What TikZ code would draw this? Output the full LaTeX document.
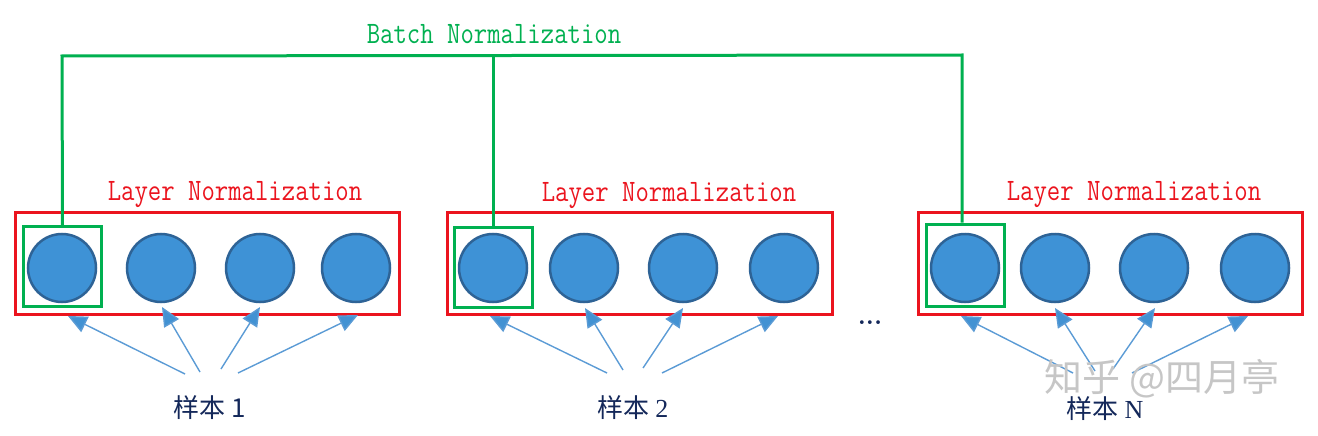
\documentclass[tikz,border=0pt]{standalone}
\usepackage{fontspec}
\usepackage{graphicx}
\newfontfamily\cjk{Noto Sans CJK SC}
\newfontfamily\serifnum{Liberation Serif}
\usetikzlibrary{arrows.meta}
\definecolor{lnred}{RGB}{235,20,30}
\definecolor{bngreen}{RGB}{0,176,80}
\definecolor{cfill}{RGB}{62,146,214}
\definecolor{cdraw}{RGB}{46,99,150}
\definecolor{arr}{RGB}{91,155,213}
\definecolor{arrhead}{RGB}{66,146,211}
\definecolor{navy}{RGB}{20,40,90}
\newcommand{\tallmono}[1]{\scalebox{1}[1.2]{#1}}
\begin{document}
\begin{tikzpicture}[x=1pt,y=-1pt,
  redbox/.style={draw=lnred,line width=3pt,minimum width=384pt,minimum height=102pt,inner sep=0pt},
  greenbox/.style={draw=bngreen,line width=3pt,minimum width=78pt,minimum height=80pt,inner sep=0pt},
  neuron/.style={circle,fill=cfill,draw=cdraw,line width=2.5pt,minimum size=68pt,inner sep=0pt},
  lntext/.style={text=lnred,font=\fontsize{26}{26}\selectfont\ttfamily,inner sep=0pt},
  bntext/.style={text=bngreen,font=\fontsize{26}{26}\selectfont\ttfamily,inner sep=0pt},
  sample/.style={text=navy,font=\fontsize{26}{26}\selectfont\cjk,inner sep=0pt},
  bnline/.style={draw=bngreen,line width=3pt},
  inarrow/.style={draw=arr,line width=1.4pt,-{Triangle[length=19pt,width=17pt,fill=arrhead]}},
]
\useasboundingbox (0,0) rectangle (1318,436);

% ---- block 1 ----
\node[redbox] (r1) at (207,263) {};
\node[greenbox] (g1) at (62.5,266.5) {};
\node[neuron] (n11) at (62,268) {};
\node[neuron] (n12) at (161,268) {};
\node[neuron] (n13) at (260,268) {};
\node[neuron] (n14) at (356,268) {};
\node[lntext] (t1) at (235,195) {\tallmono{Layer Normalization}};
\node[sample] (l1) at (210,408) {样本 1};

% ---- block 2 ----
\node[redbox,minimum width=385pt] (r2) at (639.5,263.5) {};
\node[greenbox] (g2) at (493,267) {};
\node[neuron] (n21) at (493,268) {};
\node[neuron] (n22) at (584,268) {};
\node[neuron] (n23) at (683,268) {};
\node[neuron] (n24) at (784,268) {};
\node[lntext] (t2) at (669,196) {\tallmono{Layer Normalization}};
\node[sample] (l2) at (633,408) {样本 {\serifnum 2}};

% ---- block 3 ----
\node[redbox] (r3) at (1110,263.5) {};
\node[greenbox,minimum height=82pt] (g3) at (965,265) {};
\node[neuron] (n31) at (965,268) {};
\node[neuron] (n32) at (1055,268) {};
\node[neuron] (n33) at (1154,268) {};
\node[neuron] (n34) at (1255,268) {};
\node[lntext] (t3) at (1134,195) {\tallmono{Layer Normalization}};
\node[sample] (l3) at (1105,409) {样本 {\serifnum N}};

\node[inner sep=0pt,text=navy,font=\fontsize{26}{26}\selectfont\bfseries] (dots) at (870,323) {...};

% ---- batch normalization connector ----
\node[bntext] (bn) at (494,34) {\tallmono{Batch Normalization}};
\coordinate (bnl) at (62,56);
\coordinate (bnm) at (493,56);
\coordinate (bnr) at (962,55);
\draw[bnline] (g1.north) -- (bnl) -- (bnr) -- (bnr |- g3.north);
\draw[bnline] (g2.north) -- (bnm);

% ---- input arrows ----
\coordinate (s11) at (185,374); \coordinate (e11) at (68,316);
\coordinate (s12) at (200,372); \coordinate (e12) at (162,307);
\coordinate (s13) at (221,369); \coordinate (e13) at (260,307);
\coordinate (s14) at (238,373); \coordinate (e14) at (358,315);
\coordinate (s21) at (607,373); \coordinate (e21) at (490,316);
\coordinate (s22) at (623,370); \coordinate (e22) at (585,308);
\coordinate (s23) at (643,368); \coordinate (e23) at (683,308);
\coordinate (s24) at (662,373); \coordinate (e24) at (778,316);
\coordinate (s31) at (1073,373); \coordinate (e31) at (961,316);
\coordinate (s32) at (1095,371); \coordinate (e32) at (1055,308);
\coordinate (s33) at (1113,369); \coordinate (e33) at (1155,308);
\coordinate (s34) at (1132,373); \coordinate (e34) at (1248,316);
\foreach \b in {1,2,3}{
  \foreach \i in {1,2,3,4}{
    \draw[inarrow] (s\b\i) -- (e\b\i);
  }
}

% ---- watermark ----
\node[inner sep=0pt,text=gray!45,font=\fontsize{38}{38}\selectfont\cjk] (wm) at (1162,379) {知乎 @四月亭};
\end{tikzpicture}
\end{document}
